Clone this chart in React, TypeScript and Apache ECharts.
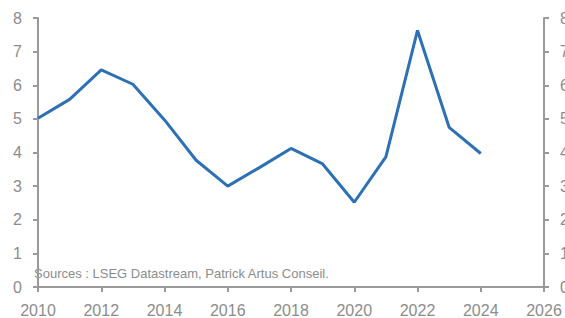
import React, { useEffect, useRef } from "react";
import * as echarts from "echarts";

const years = [2010, 2011, 2012, 2013, 2014, 2015, 2016, 2017, 2018, 2019, 2020, 2021, 2022, 2023, 2024];
const values = [5.02, 5.58, 6.46, 6.03, 4.97, 3.77, 3.0, 3.55, 4.12, 3.66, 2.52, 3.87, 7.63, 4.75, 3.97];
const sourceText = "Sources : LSEG Datastream, Patrick Artus Conseil.";

export default function App() {
  const ref = useRef<HTMLDivElement>(null);
  useEffect(() => {
    if (!ref.current) return;
    const chart = echarts.init(ref.current, null, { renderer: "svg" });
    const axisColor = "#9a9a9a";
    const labelColor = "#8c8c8c";
    const font = "'Liberation Sans', Arial, sans-serif";
    const yCommon = {
      type: "value" as const,
      min: 0,
      max: 8,
      interval: 1,
      splitLine: { show: false },
      axisLine: { show: true, lineStyle: { color: axisColor, width: 2 } },
      axisTick: { show: true, length: 5, lineStyle: { color: axisColor, width: 2 } },
    };
    chart.setOption({
      animation: false,
      grid: { left: 38, right: 21, top: 18, bottom: 31, containLabel: false, outerBoundsMode: "none" },
      xAxis: {
        type: "value",
        min: 2010,
        max: 2026,
        interval: 2,
        splitLine: { show: false },
        axisLine: { show: true, lineStyle: { color: axisColor, width: 2 } },
        axisTick: { show: true, length: 5, lineStyle: { color: axisColor, width: 2 } },
        axisLabel: { color: labelColor, fontSize: 16, fontFamily: font, margin: 15, formatter: (v: number) => String(v) },
      },
      yAxis: [
        { ...yCommon, position: "left", axisLabel: { color: labelColor, fontSize: 16, fontFamily: font, margin: 16 } },
        { ...yCommon, position: "right", axisLabel: { color: labelColor, fontSize: 16, fontFamily: font, margin: 16 } },
      ],
      series: [
        {
          type: "line",
          data: years.map((y, i) => [y, values[i]]),
          showSymbol: false,
          lineStyle: { color: "#2e70b5", width: 3 },
          itemStyle: { color: "#2e70b5" },
        },
      ],
      graphic: [
        {
          type: "text",
          left: 34,
          top: 267,
          style: { text: sourceText, fill: "#8c8c8c", fontSize: 13, fontFamily: font },
        },
      ],
    });
    return () => chart.dispose();
  }, []);
  return <div ref={ref} style={{ position: "fixed", left: 0, top: 0, width: 565, height: 318, background: "#fff" }} />;
}
